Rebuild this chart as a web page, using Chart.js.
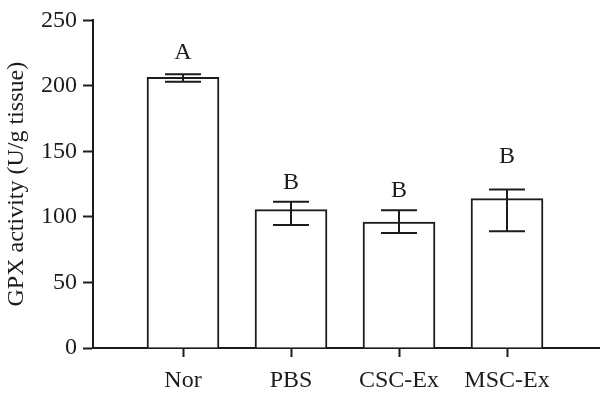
<!DOCTYPE html>
<html>
<head>
<meta charset="utf-8">
<script src="https://cdn.jsdelivr.net/npm/chart.js@4/dist/chart.umd.min.js"></script>
<style>
  html, body { margin: 0; padding: 0; background: #fff; }
</style>
</head>
<body>
<canvas id="grafico" width="600" height="398"></canvas>
<script>
// Datos (GPX activity)
const grupos = ["Nor", "PBS", "CSC-Ex", "MSC-Ex"];
const medias = [206.5, 105.6, 96, 114];
const errorAlto = [208.9, 111.7, 105.2, 120.9];
const errorBajo = [203.1, 93.9, 87.7, 89];
const letras = ["A", "B", "B", "B"];
const alturaLetras = [225.6, 126.1, 120.4, 145.8];
const marcasY = [0, 50, 100, 150, 200, 250];

const negro = "#1c1c1c";
const fuente = "'Liberation Serif', 'DejaVu Serif', serif";

// barras de error y letras dibujadas con las escalas del grafico
const erroresPlugin = {
    id: "errores",
    afterDatasetsDraw(chart) {
        const ctx = chart.ctx;
        const x = chart.scales.x;
        const y = chart.scales.y;
        ctx.save();
        ctx.strokeStyle = negro;
        ctx.lineWidth = 2;
        grupos.forEach((g, i) => {
            const px = x.getPixelForValue(i + 1);
            const alto = y.getPixelForValue(errorAlto[i]);
            const bajo = y.getPixelForValue(errorBajo[i]);
            ctx.beginPath();
            ctx.moveTo(px, alto);
            ctx.lineTo(px, bajo);
            ctx.moveTo(px - 18, alto);
            ctx.lineTo(px + 18, alto);
            ctx.moveTo(px - 18, bajo);
            ctx.lineTo(px + 18, bajo);
            ctx.stroke();

            ctx.fillStyle = negro;
            ctx.font = "24px " + fuente;
            ctx.textAlign = "center";
            ctx.textBaseline = "middle";
            ctx.fillText(letras[i], px, y.getPixelForValue(alturaLetras[i]));
        });
        ctx.restore();
    }
};

const ctx = document.getElementById("grafico").getContext("2d");
const grafico = new Chart(ctx, {
    type: "bar",
    data: {
        datasets: [{
            data: medias.map((v, i) => ({ x: i + 1, y: v })),
            backgroundColor: "#ffffff",
            borderColor: negro,
            borderWidth: 2,
            borderSkipped: "bottom",
            barThickness: 72
        }]
    },
    options: {
        responsive: false,
        animation: false,
        layout: { padding: { top: 14, right: 0, left: 0, bottom: 0 } },
        plugins: {
            legend: { display: false },
            tooltip: { enabled: false }
        },
        scales: {
            x: {
                type: "linear",
                offset: false,
                min: 1 - 90 / 108,
                max: 1 + 417 / 108,
                afterBuildTicks: s => { s.ticks = grupos.map((g, i) => ({ value: i + 1 })); },
                afterFit: s => { s.height = 50; },
                grid: {
                    offset: false,
                    drawOnChartArea: false,
                    drawTicks: true,
                    tickLength: 9,
                    tickWidth: 2,
                    tickColor: negro
                },
                border: { color: negro, width: 2 },
                ticks: {
                    color: negro,
                    padding: 9,
                    maxRotation: 0,
                    font: { family: fuente, size: 24 },
                    callback: v => grupos[v - 1] || ""
                }
            },
            y: {
                min: 0,
                max: 250,
                afterBuildTicks: s => { s.ticks = marcasY.map(v => ({ value: v })); },
                afterFit: s => { s.width = 93; },
                grid: {
                    drawOnChartArea: false,
                    drawTicks: true,
                    tickLength: 10,
                    tickWidth: 2,
                    tickColor: negro
                },
                border: { color: negro, width: 2 },
                ticks: {
                    color: negro,
                    padding: 6,
                    font: { family: fuente, size: 24 }
                },
                title: {
                    display: true,
                    text: "GPX activity (U/g tissue)",
                    color: negro,
                    padding: { top: 2, bottom: 0 },
                    font: { family: fuente, size: 24 }
                }
            }
        }
    },
    plugins: [erroresPlugin]
});
</script>
</body>
</html>
